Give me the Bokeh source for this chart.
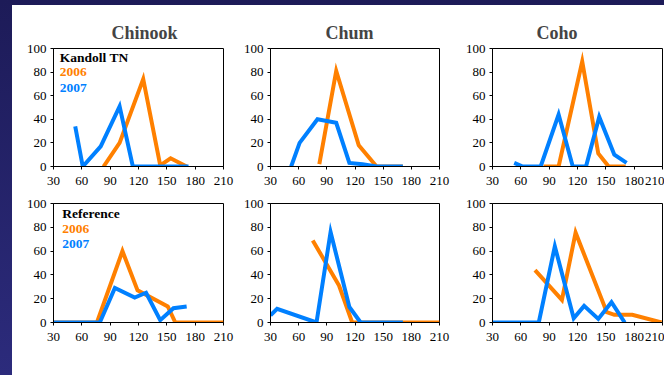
from bokeh.plotting import figure
from bokeh.layouts import column, row
from bokeh.models import FixedTicker, Range1d, Label
from bokeh.embed import file_html
from bokeh.resources import INLINE

# ---- data ----
titles = ["Chinook", "Chum", "Coho"]
x_ticks = [30, 60, 90, 120, 150, 180, 210]
y_ticks = [0, 20, 40, 60, 80, 100]

# Kandoll TN
kt_chinook_2006_x = [83, 100, 125, 143, 154, 171]
kt_chinook_2006_y = [0, 20, 74, 1, 7, 0]
kt_chinook_2007_x = [53, 61, 80, 100, 114, 128, 143, 154, 173]
kt_chinook_2007_y = [34, 0, 17, 51, 0, 0, 0, 0, 0]

kt_chum_2006_x = [82, 100, 124, 143, 154, 171]
kt_chum_2006_y = [2, 81, 18, 0, 0, 0]
kt_chum_2007_x = [52, 61, 80, 100, 114, 128, 143, 154, 171]
kt_chum_2007_y = [0, 20, 40, 37, 3, 2, 0, 0, 0]

kt_coho_2006_x = [84, 100, 125, 142, 153, 171]
kt_coho_2006_y = [0, 0, 89, 11, 0, 0]
kt_coho_2007_x = [53, 62, 81, 100, 115, 129, 143, 159, 172]
kt_coho_2007_y = [3, 0, 0, 44, 0, 0, 42, 10, 3]

# Reference
ref_chinook_2006_x = [30, 45, 60, 76, 103, 119, 151, 159, 175, 190, 210]
ref_chinook_2006_y = [0, 0, 0, 0, 60, 27, 13.5, 0, 0, 0, 0]
ref_chinook_2007_x = [30, 45, 60, 79, 95, 116, 128, 143, 157, 171]
ref_chinook_2007_y = [0, 0, 0, 0, 29, 21, 25, 2, 12, 13.5]

ref_chum_2006_x = [75, 103, 117, 120, 140, 160, 180, 210]
ref_chum_2006_y = [69, 31, 0, 0, 0, 0, 0, 0]
ref_chum_2007_x = [30, 37, 79, 94, 114, 126, 143, 157, 171]
ref_chum_2007_y = [6, 11.5, 0, 76, 13, 0, 0, 0, 0]

ref_coho_2006_x = [75, 103.5, 118, 151, 159, 178, 209]
ref_coho_2006_y = [44, 19, 75.5, 8.7, 6.5, 6.5, 0]
ref_coho_2007_x = [30, 45, 60, 79, 96, 116, 127, 142, 156, 170]
ref_coho_2007_y = [0, 0, 0, 0, 64, 3.6, 14, 3, 17, 0]

ORANGE = "#FF8000"
BLUE = "#0080FF"
FONT = "Times New Roman"
LABEL_FONT = "Liberation Serif"
PAGE_BG = ("linear-gradient(white, white) 12px 5px / calc(100% - 12px) calc(100% - 5px) no-repeat, "
           "linear-gradient(#1d1b58, #2c2b7c)")

# layout geometry: (width, min_border_left, min_border_right)
cols = [(228, 41, 17), (216, 30, 17), (208, 36, 2)]
rows_geo = [(190, 43, 29), (180, 8, 53)]


def make_panel(ci, ri, x06, y06, x07, y07, title=None, legend=None):
    w, bl, br = cols[ci]
    h, bt, bb = rows_geo[ri]
    p = figure(width=w, height=h, output_backend="svg", toolbar_location=None,
               x_range=Range1d(30, 210), y_range=Range1d(0, 100),
               min_border_left=bl, min_border_right=br,
               min_border_top=bt, min_border_bottom=bb,
               background_fill_color="white", border_fill_color="white")
    if title:
        p.title.text = title
        p.title.align = "left"
        p.title.offset = [58, 55, 44][ci]
        p.title.text_font = FONT
        p.title.text_font_size = "18px"
        p.title.text_font_style = "bold"
        p.title.standoff = 11
    p.grid.visible = False
    p.outline_line_color = "black"
    p.outline_line_width = 1
    for ax in (p.xaxis[0], p.yaxis[0]):
        ax.axis_line_color = "black"
        ax.major_tick_line_color = "black"
        ax.minor_tick_line_color = None
        ax.major_tick_out = 3
        ax.major_tick_in = 0
        ax.major_label_text_font = FONT
        ax.major_label_text_font_size = "13px"
        ax.major_label_text_color = "black"
    p.xaxis.major_label_standoff = 7
    p.yaxis.major_label_standoff = 4
    p.xaxis.ticker = FixedTicker(ticks=x_ticks)
    p.yaxis.ticker = FixedTicker(ticks=y_ticks)

    p.line(x06, y06, line_color=ORANGE, line_width=4, line_join="miter")
    p.line(x07, y07, line_color=BLUE, line_width=4, line_join="miter")

    if legend:
        lx, ly, head = legend
        for txt, yy, col in zip([head, "2006", "2007"], ly, ["black", ORANGE, BLUE]):
            p.add_layout(Label(x=lx, y=yy, text=txt, text_font=LABEL_FONT,
                               text_font_size="13.5px", text_font_style="bold",
                               text_color=col, text_baseline="middle"))
    return p


p1 = make_panel(0, 0, kt_chinook_2006_x, kt_chinook_2006_y, kt_chinook_2007_x, kt_chinook_2007_y,
                title=titles[0], legend=(36.7, [92, 80, 66.5], "Kandoll TN"))
p2 = make_panel(1, 0, kt_chum_2006_x, kt_chum_2006_y, kt_chum_2007_x, kt_chum_2007_y, title=titles[1])
p3 = make_panel(2, 0, kt_coho_2006_x, kt_coho_2006_y, kt_coho_2007_x, kt_coho_2007_y, title=titles[2])
p4 = make_panel(0, 1, ref_chinook_2006_x, ref_chinook_2006_y, ref_chinook_2007_x, ref_chinook_2007_y,
                legend=(39.2, [91.8, 78.9, 66.2], "Reference"))
p5 = make_panel(1, 1, ref_chum_2006_x, ref_chum_2006_y, ref_chum_2007_x, ref_chum_2007_y)
p6 = make_panel(2, 1, ref_coho_2006_x, ref_coho_2006_y, ref_coho_2007_x, ref_coho_2007_y)

grid = column(row(p1, p2, p3, spacing=0), row(p4, p5, p6, spacing=0), spacing=0,
              margin=(5, 0, 0, 12))
layout = column(grid, spacing=0, styles={"background": PAGE_BG})

open("out.html", "w").write(file_html(layout, INLINE))
